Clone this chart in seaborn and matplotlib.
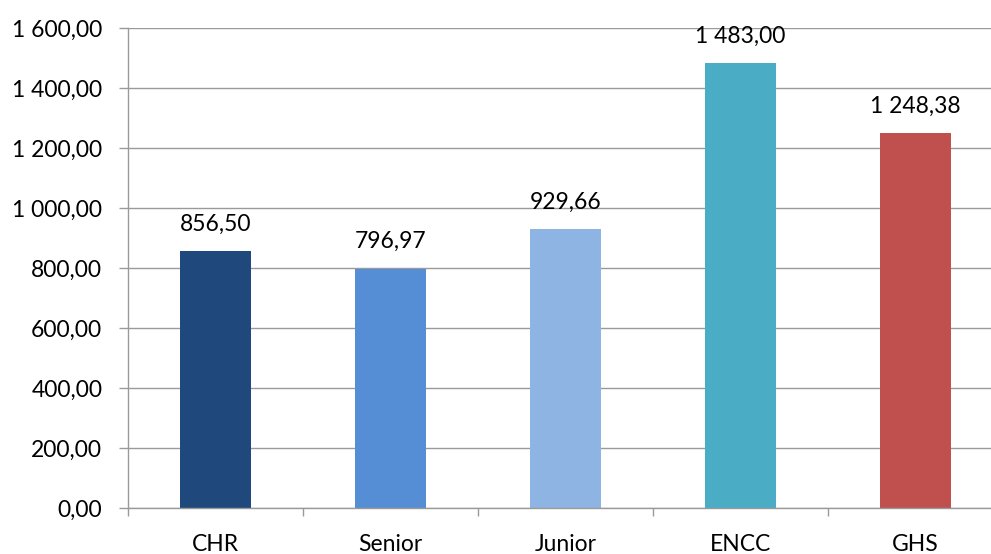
import matplotlib.pyplot as plt
import seaborn as sns
import pandas as pd

categories = ['CHR', 'Senior', 'Junior', 'ENCC', 'GHS']
values = [856.50, 796.97, 929.66, 1483.00, 1248.38]
colors = ['#1F497D', '#558ED5', '#8EB4E3', '#4BACC6', '#C0504D']
y_ticks = [0, 200, 400, 600, 800, 1000, 1200, 1400, 1600]


def fr_num(v):
    s = f'{v:,.2f}'
    return s.replace(',', ' ').replace('.', ',')


df = pd.DataFrame({'cat': categories, 'val': values})

sns.set_style('white')
plt.rcParams['font.family'] = ['Lato', 'DejaVu Sans']
plt.rcParams['text.color'] = '#000000'

fig = plt.figure(figsize=(9.91, 5.54), dpi=100)
ax = fig.add_axes([128 / 991, 1 - 508 / 554, 875 / 991, 480 / 554])

sns.barplot(data=df, x='cat', y='val', hue='cat', palette=colors,
            width=0.406, legend=False, ax=ax, saturation=1, linewidth=0)

ax.set_xlim(-0.5, 4.5)
ax.set_ylim(0, 1600)
ax.set_yticks(y_ticks)
ax.set_yticklabels([fr_num(t) for t in y_ticks])
ax.set_xticks([i - 0.5 for i in range(6)], minor=True)
ax.set_xlabel('')
ax.set_ylabel('')

ax.grid(True, axis='y', color='#9a9a9a', linewidth=1.0)
ax.set_axisbelow(True)
for s in ['top', 'right']:
    ax.spines[s].set_visible(False)
for s in ['left', 'bottom']:
    ax.spines[s].set_color('#9a9a9a')
    ax.spines[s].set_linewidth(1.0)

ax.tick_params(axis='y', which='major', length=6.5, width=1.0, color='#9a9a9a',
               direction='out', labelsize=16.5, pad=12, left=True,
               labelcolor='#000000')
ax.tick_params(axis='x', which='major', length=0, labelsize=16.5, pad=19,
               labelcolor='#000000')
ax.tick_params(axis='x', which='minor', length=6, width=1.0, color='#9a9a9a',
               direction='out', bottom=True)

for i, v in enumerate(values):
    ax.annotate(fr_num(v), (i, v), xytext=(0, 12), textcoords='offset points',
                ha='center', va='bottom', fontsize=16.5, color='#000000')

fig.savefig('out.png', dpi=100)
